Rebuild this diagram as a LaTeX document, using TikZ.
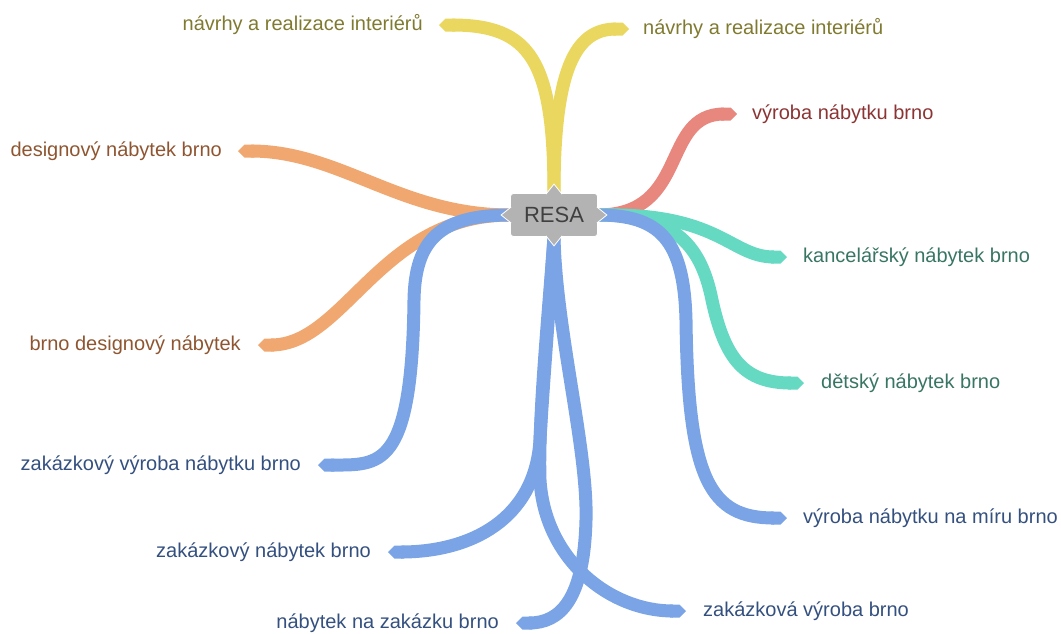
\documentclass[tikz,border=0pt]{standalone}
\usepackage{fontspec}
\setmainfont{Liberation Sans}
\usetikzlibrary{arrows.meta,positioning,backgrounds}
\definecolor{mapyellow}{RGB}{234,215,95}
\definecolor{mapyellowtxt}{RGB}{128,122,48}
\definecolor{mapred}{RGB}{232,135,126}
\definecolor{mapredtxt}{RGB}{140,52,52}
\definecolor{maporange}{RGB}{240,168,112}
\definecolor{maporangetxt}{RGB}{142,85,48}
\definecolor{mapteal}{RGB}{102,217,195}
\definecolor{maptealtxt}{RGB}{56,117,100}
\definecolor{mapblue}{RGB}{123,164,230}
\definecolor{mapbluetxt}{RGB}{52,80,127}
\definecolor{mapgray}{RGB}{179,179,179}

\begin{document}
\begin{tikzpicture}[x=1pt, y=-1pt,
  branch/.style={line width=13pt, -{Triangle Cap[]}},
  lbl/.style={inner sep=0pt, font=\fontsize{20}{24}\selectfont, text height=15pt, text depth=5pt}]
  \useasboundingbox (0,0) rectangle (1061,633);

  % central topic
  \node[fill=mapgray, draw=white, line width=0.8pt, rounded corners=3pt, minimum width=87pt, minimum height=43pt,
        text=black!75, font=\fontsize{22}{26}\selectfont] (resa) at (554,215) {RESA};
  \foreach \a/\dx/\dy in {west/-1/0, east/1/0, north/0/-1, south/0/1}
    \filldraw[fill=mapgray, draw=white, line width=0.8pt]
      (resa.\a) ++({-\dx+8*\dy},{-\dy+8*\dx}) -- ++({10*\dx-8*\dy},{10*\dy-8*\dx}) -- ++({-10*\dx-8*\dy},{-10*\dy-8*\dx});

  % branch ends
  \coordinate (e1) at (439,25);
  \coordinate (e2) at (629,29);
  \coordinate (e3) at (737,114);
  \coordinate (e4) at (238,151);
  \coordinate (e5) at (787,257);
  \coordinate (e6) at (258,345);
  \coordinate (e7) at (804,383);
  \coordinate (e8) at (318,465);
  \coordinate (e9) at (787,518);
  \coordinate (e10) at (388,552);
  \coordinate (e11) at (686,611);
  \coordinate (e12) at (516,623);

  % labels
  \node[lbl, text=mapyellowtxt, left=16pt of e1] (l1) {návrhy a realizace interiérů};
  \node[lbl, text=mapyellowtxt, right=14pt of e2] (l2) {návrhy a realizace interiérů};
  \node[lbl, text=mapredtxt, right=15pt of e3] (l3) {výroba nábytku brno};
  \node[lbl, text=maporangetxt, left=16pt of e4] (l4) {designový nábytek brno};
  \node[lbl, text=maptealtxt, right=16pt of e5] (l5) {kancelářský nábytek brno};
  \node[lbl, text=maporangetxt, left=17pt of e6] (l6) {brno designový nábytek};
  \node[lbl, text=maptealtxt, right=17pt of e7] (l7) {dětský nábytek brno};
  \node[lbl, text=mapbluetxt, left=17pt of e8] (l8) {zakázkový výroba nábytku brno};
  \node[lbl, text=mapbluetxt, right=16pt of e9] (l9) {výroba nábytku na míru brno};
  \node[lbl, text=mapbluetxt, left=17pt of e10] (l10) {zakázkový nábytek brno};
  \node[lbl, text=mapbluetxt, right=17pt of e11] (l11) {zakázková výroba brno};
  \node[lbl, text=mapbluetxt, left=17pt of e12] (l12) {nábytek na zakázku brno};

  \begin{scope}[on background layer]
    \draw[branch, mapyellow] (resa.north) .. controls (554,60) and (530,25) .. (e1);
    \draw[branch, mapyellow] (resa.north) .. controls (554,70) and (575,29) .. (e2);
    \draw[branch, mapred] (resa.east) .. controls (690,215) and (660,114) .. (e3);
    \draw[branch, maporange] (resa.west) .. controls (400,215) and (340,151) .. (e4);
    \draw[branch, maporange] (resa.west) .. controls (380,215) and (345,345) .. (e6);
    \draw[branch, mapteal] (resa.east) .. controls (720,212) and (730,257) .. (e5);
    \draw[branch, mapteal] (resa.east) .. controls (670,215) and (700,240) .. (712,300)
      .. controls (725,360) and (745,383) .. (e7);
    \draw[branch, mapblue] (resa.east) .. controls (660,215) and (684,240) .. (686,320)
      .. controls (688,480) and (710,518) .. (e9);
    \draw[branch, mapblue] (resa.west) .. controls (440,215) and (415,240) .. (414,300)
      .. controls (412,470) and (380,465) .. (e8);
    \draw[branch, mapblue] (resa.south) .. controls (550,300) and (542,400) .. (540,440)
      .. controls (535,520) and (470,552) .. (e10);
    \draw[branch, mapblue] (resa.south) .. controls (548,320) and (538,420) .. (540,480)
      .. controls (545,560) and (610,611) .. (e11);
    \draw[branch, mapblue] (resa.south) .. controls (556,330) and (588,450) .. (586,520)
      .. controls (584,600) and (560,623) .. (e12);
  \end{scope}
\end{tikzpicture}
\end{document}
